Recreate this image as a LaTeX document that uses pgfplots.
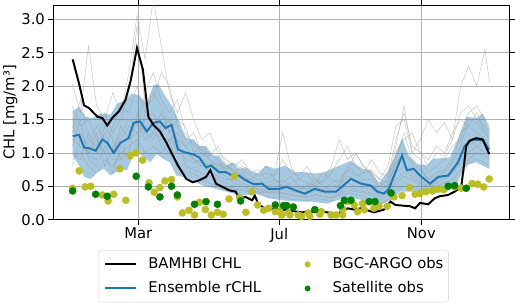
\documentclass[border=0pt]{standalone}
\usepackage{fontspec}
\setmainfont{DejaVu Sans}
\usepackage{pgfplots}
\pgfplotsset{compat=1.18}
\usepgfplotslibrary{fillbetween}
\definecolor{tabblue}{HTML}{1F77B4}
\definecolor{olive}{HTML}{BCBD22}
\definecolor{satgreen}{HTML}{008000}
\pgfplotsset{
  linelegend/.style={legend image code/.code={\draw[##1] (0bp,0bp) -- (32bp,0bp);}},
  dotlegend/.style={legend image code/.code={\path (0bp,0bp) (32bp,0bp);\draw[##1] plot coordinates {(16bp,0bp)};}},
  member/.style={color=black!40, opacity=0.55, line width=0.5bp, forget plot},
}
\begin{document}
\begin{tikzpicture}
\begin{axis}[
  scale only axis, width=462bp, height=217bp,
  font=\fontsize{15}{18}\selectfont,
  xmin=-14.5, xmax=380.5, ymin=0, ymax=3.21,
  xtick={59,181,304}, xticklabels={Mar,Jul,Nov},
  ytick={0,0.5,1,1.5,2,2.5,3},
  yticklabel style={/pgf/number format/.cd, fixed, fixed zerofill, precision=1, assume math mode=true},
  grid=major, major grid style={color=black!30, line width=0.6bp},
  tick align=outside, major tick length=5bp, tick style={black, line width=0.6bp},
  axis line style={line width=0.8bp},
  ylabel={CHL [mg/m³]},
  ylabel style={yshift=-3bp},
  clip=true,
  legend columns=2,
  legend style={at={(axis description cs:0.4827,-0.144)}, anchor=north,
    draw=black!20, rounded corners=2bp, inner xsep=5bp, inner ysep=6.8bp,
    font=\fontsize{15}{18}\selectfont, row sep=10.4bp,
    nodes={inner sep=0pt, text height=11bp, text depth=3bp}},
  legend cell align=left,
]
% ensemble members
\addplot[member] coordinates {(2,2.03)(9,1.6)(16,2.6)(23,1.7)(30,1.5)(37,1.9)(44,1.6)(51,2.2)(58,3.06)(65,2.4)(72,3.3)(79,2.6)(86,1.9)(93,1.6)(100,1.9)(107,1.5)(114,1.2)(121,1.3)(128,1.0)(135,0.9)(142,0.8)(149,0.9)(156,0.7)(163,0.75)(170,0.6)(177,0.7)(184,1.3)(191,0.8)(198,0.6)(205,0.7)(212,0.5)(219,0.6)(226,0.8)(233,1.2)(240,0.9)(247,1.0)(254,0.8)(261,0.7)(268,0.6)(275,0.8)(282,1.4)(289,1.5)(296,1.0)(303,1.2)(310,1.5)(317,1.3)(324,1.45)(331,1.2)(338,2.0)(345,2.3)(352,2.0)(359,2.55)(363,2.06)};
\addplot[member] coordinates {(2,1.3)(9,1.8)(16,1.2)(23,1.1)(30,1.6)(37,1.3)(44,1.5)(51,1.9)(58,2.9)(65,1.7)(72,1.8)(79,2.2)(86,2.0)(93,1.4)(100,1.2)(107,1.3)(114,1.0)(121,0.9)(128,0.8)(135,0.85)(142,0.7)(149,0.6)(156,0.6)(163,0.55)(170,0.5)(177,0.55)(184,0.6)(191,0.5)(198,0.45)(205,0.5)(212,0.6)(219,0.5)(226,0.45)(233,0.5)(240,0.8)(247,0.7)(254,0.6)(261,0.6)(268,0.5)(275,0.6)(282,1.1)(289,1.7)(296,1.0)(303,0.9)(310,0.7)(317,0.8)(324,0.9)(331,1.1)(338,1.2)(345,1.6)(352,1.7)(359,1.5)(363,1.4)};
\addplot[member] coordinates {(2,0.9)(9,1.0)(16,0.8)(23,0.7)(30,0.9)(37,0.8)(44,1.0)(51,1.1)(58,1.2)(65,1.0)(72,1.1)(79,1.0)(86,1.2)(93,0.8)(100,0.7)(107,0.7)(114,0.6)(121,0.55)(128,0.5)(135,0.5)(142,0.45)(149,0.45)(156,0.4)(163,0.42)(170,0.35)(177,0.33)(184,0.35)(191,0.3)(198,0.3)(205,0.28)(212,0.32)(219,0.3)(226,0.28)(233,0.3)(240,0.4)(247,0.38)(254,0.35)(261,0.3)(268,0.25)(275,0.3)(282,0.45)(289,0.5)(296,0.48)(303,0.45)(310,0.42)(317,0.45)(324,0.5)(331,0.5)(338,0.6)(345,0.85)(352,0.9)(359,0.85)(363,0.8)};
\addplot[member] coordinates {(2,1.5)(9,1.3)(16,1.1)(23,1.4)(30,1.2)(37,1.0)(44,1.3)(51,1.5)(58,1.4)(65,1.9)(72,2.2)(79,1.8)(86,1.6)(93,1.8)(100,1.3)(107,1.1)(114,1.05)(121,0.9)(128,0.75)(135,0.8)(142,0.75)(149,0.65)(156,0.6)(163,0.7)(170,0.8)(177,0.6)(184,0.55)(191,0.65)(198,0.5)(205,0.45)(212,0.55)(219,0.7)(226,0.6)(233,0.55)(240,0.7)(247,1.0)(254,0.8)(261,0.65)(268,0.55)(275,0.5)(282,0.9)(289,1.3)(296,0.9)(303,0.8)(310,0.6)(317,0.7)(324,0.75)(331,0.9)(338,1.3)(345,1.4)(352,1.3)(359,1.2)(363,1.1)};
\addplot[member] coordinates {(2,1.1)(9,1.5)(16,0.9)(23,0.8)(30,1.1)(37,0.9)(44,0.9)(51,1.0)(58,1.6)(65,1.3)(72,1.2)(79,1.4)(86,1.5)(93,1.1)(100,0.9)(107,0.85)(114,0.9)(121,0.7)(128,0.65)(135,0.6)(142,0.6)(149,0.55)(156,0.5)(163,0.45)(170,0.4)(177,0.42)(184,0.4)(191,0.38)(198,0.36)(205,0.35)(212,0.38)(219,0.35)(226,0.33)(233,0.38)(240,0.5)(247,0.45)(254,0.42)(261,0.4)(268,0.35)(275,0.4)(282,0.6)(289,0.7)(296,0.65)(303,0.55)(310,0.5)(317,0.55)(324,0.6)(331,0.7)(338,0.85)(345,1.0)(352,1.1)(359,1.0)(363,0.95)};
\addplot[member] coordinates {(2,1.2)(9,1.1)(16,1.0)(23,1.3)(30,0.8)(37,1.1)(44,1.2)(51,1.4)(58,1.3)(65,1.5)(72,1.6)(79,1.3)(86,1.5)(93,1.2)(100,1.1)(107,1.2)(114,0.95)(121,1.0)(128,0.9)(135,0.75)(142,0.85)(149,0.75)(156,0.65)(163,0.6)(170,0.55)(177,0.6)(184,0.5)(191,0.55)(198,0.6)(205,0.55)(212,0.5)(219,0.45)(226,0.55)(233,0.6)(240,0.75)(247,0.65)(254,0.7)(261,0.75)(268,0.6)(275,0.55)(282,1.0)(289,1.2)(296,1.3)(303,1.0)(310,0.9)(317,1.1)(324,1.0)(331,1.3)(338,1.5)(345,1.4)(352,1.6)(359,1.3)(363,1.2)};
\addplot[member] coordinates {(2,1.0)(9,0.9)(16,1.3)(23,1.0)(30,1.4)(37,1.2)(44,0.9)(51,1.3)(58,1.5)(65,1.2)(72,1.3)(79,1.6)(86,1.3)(93,1.0)(100,1.0)(107,0.9)(114,0.8)(121,0.85)(128,0.7)(135,0.65)(142,0.55)(149,0.5)(156,0.5)(163,0.45)(170,0.45)(177,0.4)(184,0.45)(191,0.42)(198,0.4)(205,0.38)(212,0.42)(219,0.4)(226,0.38)(233,0.4)(240,0.55)(247,0.5)(254,0.48)(261,0.45)(268,0.38)(275,0.42)(282,0.7)(289,0.8)(296,0.7)(303,0.6)(310,0.5)(317,0.58)(324,0.65)(331,0.7)(338,0.9)(345,1.2)(352,1.1)(359,1.2)(363,1.1)};
\addplot[member] coordinates {(2,1.4)(9,1.2)(16,0.95)(23,0.9)(30,1.3)(37,1.0)(44,1.4)(51,1.2)(58,1.3)(65,1.4)(72,1.3)(79,1.2)(86,1.2)(93,1.3)(100,1.1)(107,0.9)(114,0.85)(121,0.8)(128,0.85)(135,0.7)(142,0.7)(149,0.7)(156,0.55)(163,0.5)(170,0.5)(177,0.5)(184,0.52)(191,0.5)(198,0.48)(205,0.45)(212,0.48)(219,0.45)(226,0.5)(233,0.52)(240,0.65)(247,0.6)(254,0.55)(261,0.52)(268,0.45)(275,0.5)(282,0.85)(289,1.0)(296,0.85)(303,0.75)(310,0.6)(317,0.65)(324,0.72)(331,0.85)(338,1.1)(345,1.5)(352,1.45)(359,1.3)(363,1.25)};
\addplot[member] coordinates {(2,1.7)(9,1.4)(16,1.5)(23,1.2)(30,1.0)(37,1.4)(44,1.7)(51,1.6)(58,2.0)(65,1.6)(72,1.9)(79,1.7)(86,1.3)(93,1.5)(100,1.4)(107,1.0)(114,1.1)(121,0.95)(128,1.1)(135,0.8)(142,0.7)(149,0.8)(156,0.75)(163,0.65)(170,0.7)(177,0.65)(184,0.9)(191,0.7)(198,0.65)(205,0.8)(212,0.6)(219,0.55)(226,0.7)(233,0.9)(240,1.1)(247,0.8)(254,0.7)(261,0.9)(268,0.7)(275,0.65)(282,1.2)(289,1.6)(296,1.1)(303,1.0)(310,0.8)(317,1.0)(324,0.95)(331,1.2)(338,1.6)(345,1.7)(352,1.5)(359,1.4)(363,1.3)};
\addplot[member] coordinates {(2,0.8)(9,1.2)(16,1.0)(23,1.2)(30,1.0)(37,0.7)(44,1.1)(51,0.9)(58,1.1)(65,1.6)(72,1.4)(79,1.1)(86,1.0)(93,1.2)(100,0.8)(107,0.75)(114,0.7)(121,0.65)(128,0.6)(135,0.55)(142,0.5)(149,0.5)(156,0.45)(163,0.4)(170,0.42)(177,0.38)(184,0.4)(191,0.36)(198,0.35)(205,0.33)(212,0.36)(219,0.34)(226,0.32)(233,0.36)(240,0.45)(247,0.42)(254,0.4)(261,0.36)(268,0.3)(275,0.36)(282,0.55)(289,0.65)(296,0.6)(303,0.5)(310,0.45)(317,0.5)(324,0.55)(331,0.6)(338,0.75)(345,0.9)(352,1.0)(359,0.95)(363,0.9)};
% ensemble spread
\addplot[name path=up, draw=none, forget plot] coordinates {(2.3,1.62)(7.9,1.69)(13.7,1.54)(19.4,1.52)(26.5,1.59)(35.1,1.57)(40.8,1.74)(47.9,1.79)(53.6,1.89)(59.3,1.86)(66.4,1.74)(72.1,2.01)(76.3,2.03)(82.1,1.86)(89.2,1.67)(94.9,1.45)(100.6,1.22)(106.3,1.20)(112.0,1.10)(117.7,1.10)(123.4,0.96)(129.1,0.96)(134.8,0.81)(140.5,0.86)(146.2,0.76)(151.9,0.78)(157.6,0.71)(163.3,0.69)(169.0,0.81)(177.6,0.76)(186.1,0.81)(194.7,0.71)(203.2,0.71)(211.8,0.69)(220.3,0.71)(228.9,0.78)(243.1,0.88)(253.1,0.76)(260.2,0.74)(267.3,0.54)(274.4,0.71)(281.5,0.96)(287.3,1.22)(293.0,0.96)(300.1,0.83)(308.6,0.81)(314.4,0.91)(328.5,0.93)(334.3,1.15)(342.8,1.54)(351.4,1.52)(357.1,1.59)(362.8,1.37)};
\addplot[name path=lo, draw=none, forget plot] coordinates {(2.3,0.96)(7.9,0.81)(12.2,0.64)(17.9,0.61)(23.7,0.71)(29.3,0.76)(35.1,0.66)(42.2,0.74)(49.3,0.74)(56.4,1.05)(62.1,0.96)(69.3,0.86)(75.0,0.98)(80.6,0.91)(86.3,0.86)(92.1,0.66)(97.7,0.64)(103.5,0.61)(109.2,0.56)(114.8,0.51)(120.6,0.49)(126.3,0.46)(134.8,0.42)(146.2,0.37)(154.8,0.37)(160.5,0.39)(171.9,0.32)(183.2,0.29)(197.5,0.27)(208.9,0.27)(223.1,0.24)(234.5,0.32)(246.0,0.32)(257.3,0.27)(268.7,0.22)(277.3,0.29)(285.8,0.42)(294.4,0.42)(302.9,0.42)(314.4,0.39)(325.7,0.42)(334.3,0.54)(342.8,0.81)(351.4,0.86)(357.1,0.81)(362.8,0.76)};
\addplot[fill=tabblue, fill opacity=0.4, draw=none, forget plot] fill between[of=up and lo];
% ensemble mean
\addplot[tabblue, line width=2bp, forget plot] coordinates {(2.3,1.25)(7.9,1.27)(12.2,1.08)(16.5,1.07)(22.2,1.03)(28.0,1.20)(32.2,1.15)(37.9,1.00)(43.6,1.15)(50.7,1.22)(55.0,1.45)(60.7,1.47)(66.4,1.32)(72.1,1.45)(77.8,1.47)(82.7,1.37)(87.8,1.42)(93.4,1.05)(100.6,1.00)(106.3,0.98)(112.0,0.93)(117.7,0.78)(122.0,0.81)(129.1,0.71)(134.8,0.71)(140.5,0.66)(146.2,0.66)(151.9,0.59)(157.6,0.54)(160.5,0.53)(166.1,0.54)(171.9,0.46)(180.4,0.46)(187.5,0.49)(194.7,0.44)(203.2,0.39)(211.8,0.46)(220.3,0.42)(230.3,0.42)(243.1,0.61)(251.6,0.54)(260.2,0.51)(265.9,0.42)(271.6,0.39)(275.9,0.46)(281.5,0.71)(287.3,0.96)(291.5,0.74)(297.3,0.76)(302.9,0.66)(311.4,0.54)(318.6,0.64)(327.2,0.66)(335.7,0.86)(341.4,1.10)(347.1,1.20)(357.1,1.19)(362.8,1.05)};
% BAMHBI
\addplot[black, line width=2bp, forget plot] coordinates {(2.3,2.40)(7.9,2.03)(12.2,1.71)(16.5,1.67)(23.7,1.54)(28.0,1.52)(32.2,1.41)(36.5,1.52)(42.2,1.62)(47.9,1.79)(52.2,2.06)(55.0,2.30)(57.9,2.57)(63.0,2.25)(67.8,1.54)(72.1,1.42)(77.8,1.32)(83.5,1.15)(87.8,1.00)(93.4,0.81)(100.6,0.61)(106.3,0.56)(112.0,0.59)(117.7,0.64)(121.4,0.74)(126.3,0.54)(131.9,0.49)(137.6,0.44)(143.4,0.42)(146.2,0.32)(151.9,0.34)(157.6,0.29)(159.9,0.36)(163.3,0.22)(169.0,0.17)(183.2,0.15)(200.3,0.11)(217.4,0.12)(231.7,0.09)(240.2,0.17)(246.0,0.15)(251.6,0.17)(263.1,0.11)(271.6,0.15)(277.3,0.27)(281.5,0.22)(294.4,0.20)(298.6,0.17)(302.9,0.25)(309.9,0.23)(315.6,0.32)(319.8,0.35)(327.2,0.37)(332.8,0.42)(338.5,0.49)(340.5,0.76)(342.8,1.10)(345.7,1.18)(351.4,1.22)(357.1,1.20)(362.8,0.98)};
% BGC-ARGO
\addplot[only marks, mark=*, mark size=3.6bp, mark options={fill=olive, draw=olive}, forget plot] coordinates {(2.3,0.47)(7.9,0.73)(13.1,0.49)(17.9,0.50)(28,0.37)(33,0.28)(37.9,0.38)(43,0.76)(48.3,0.29)(52.2,0.96)(57.3,1.00)(62.7,0.89)(68.4,0.55)(72.9,0.41)(77.8,0.48)(82.1,0.58)(87.8,0.60)(92.9,0.34)(97.2,0.10)(102.9,0.14)(107.7,0.07)(112,0.26)(117.1,0.15)(122.3,0.07)(127.6,0.11)(132.5,0.08)(137.6,0.31)(142.3,0.65)(146.8,0.33)(152.2,0.11)(157.6,0.42)(162.4,0.22)(167.6,0.14)(171.8,0.17)(177.6,0.12)(181.6,0.12)(183.2,0.07)(188.9,0.10)(190.4,0.07)(197.5,0.07)(200.3,0.05)(206.0,0.10)(207.5,0.05)(216.2,0.08)(217.4,0.12)(225.9,0.07)(230.2,0.07)(235.9,0.07)(236,0.16)(240.2,0.27)(246,0.22)(248.8,0.12)(253.1,0.24)(254.5,0.15)(263,0.17)(267.3,0.20)(274.4,0.20)(280.2,0.34)(287.3,0.36)(293.8,0.48)(298.6,0.38)(302.9,0.39)(308,0.42)(313.5,0.43)(318.6,0.46)(323.4,0.45)(332.8,0.49)(338.5,0.47)(347.9,0.54)(352.8,0.53)(357.9,0.49)(362.7,0.61)};
% Satellite
\addplot[only marks, mark=*, mark size=3.6bp, mark options={fill=satgreen, draw=satgreen}, forget plot] coordinates {(2.3,0.43)(22.2,0.38)(32.2,0.35)(57.3,0.65)(67.8,0.49)(77.8,0.34)(87.8,0.50)(92.9,0.37)(107.7,0.23)(117.7,0.27)(127.6,0.23)(147.6,0.28)(177.6,0.22)(184.7,0.21)(187.5,0.21)(193.2,0.19)(211.8,0.15)(234.0,0.21)(237.4,0.29)(243.1,0.29)(258.8,0.27)(263.9,0.27)(277.8,0.40)(327.2,0.50)(332.8,0.51)(342.8,0.47)};
% legend
\addlegendimage{black, line width=2bp, linelegend}
\addlegendentry{\makebox[156bp][l]{\hspace{11bp}BAMHBI CHL}}
\addlegendimage{only marks, mark=*, mark size=2.7bp, mark options={fill=olive, draw=olive}, dotlegend}
\addlegendentry{\hspace{9bp}BGC-ARGO obs}
\addlegendimage{tabblue, line width=2bp, linelegend}
\addlegendentry{\makebox[156bp][l]{\hspace{11bp}Ensemble rCHL}}
\addlegendimage{only marks, mark=*, mark size=2.7bp, mark options={fill=satgreen, draw=satgreen}, dotlegend}
\addlegendentry{\hspace{9bp}Satellite obs}
\end{axis}
\end{tikzpicture}
\end{document}
